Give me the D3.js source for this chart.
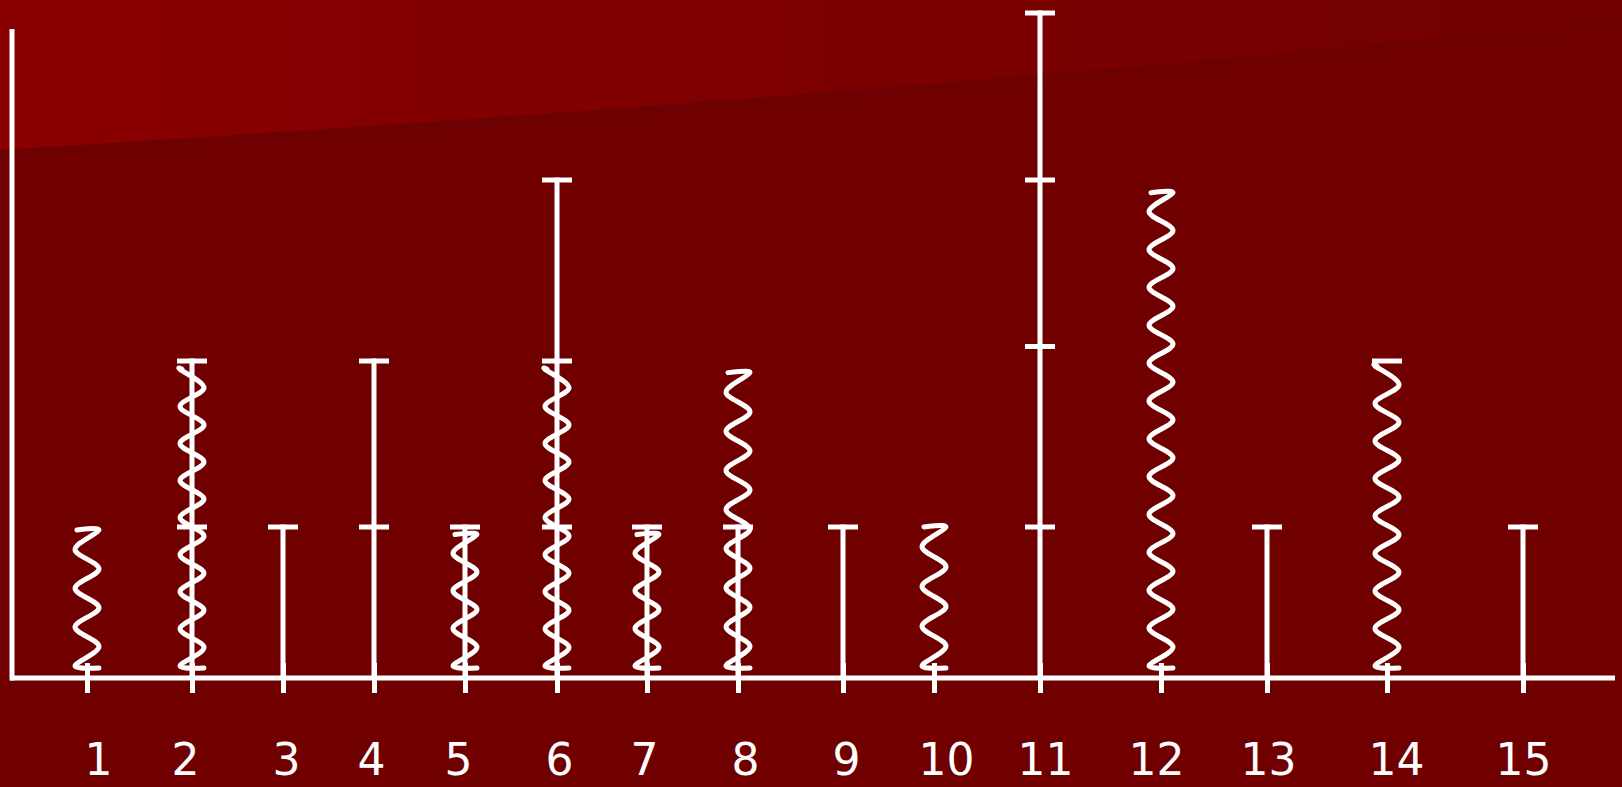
<html>
  <script src="https://cdn.jsdelivr.net/npm/d3@7"></script>
  <style>
    body,
    html {
      margin: 0;
      padding: 0;
      background: #700000;
    }
    svg {
      display: block;
    }
  </style>
  <body>
    <svg id="chart" width="1622" height="787"></svg>
    <script>
      // one entry per column, values in "levels" (0 = axis)
      const categories = ["1", "2", "3", "4", "5", "6", "7", "8", "9", "10", "11", "12", "13", "14", "15"];
      const straightTop = [0, 2, 1, 2, 1, 3, 1, 1, 1, 0, 4, 0, 1, 0, 1];
      const capLevels = [[], [1, 2], [1], [1, 2], [1], [1, 2, 3], [1], [1], [1], [], [1, 2.08, 3, 4], [], [1], [2], [1]];
      const waveTop = [0.98, 1.95, 0, 0, 0.95, 1.95, 0.95, 1.93, 0, 1, 0, 2.93, 0, 1.97, 0];
      const waveBottom = 0.08;
      const levelTicks = [0, 1, 2, 3, 4];

      const svg = d3.select("#chart");
      const W = 1622;

      // background band top-left
      const defs = svg.append("defs");
      const grad = defs
        .append("linearGradient")
        .attr("id", "band")
        .attr("x1", "0%")
        .attr("x2", "100%");
      grad.append("stop").attr("offset", "0%").attr("stop-color", "#8a0000");
      grad.append("stop").attr("offset", "55%").attr("stop-color", "#7c0000");
      grad.append("stop").attr("offset", "100%").attr("stop-color", "#710000");

      svg.append("rect").attr("width", W).attr("height", 787).attr("fill", "#700000");
      svg
        .append("path")
        .attr("d", "M0,0 L1622,0 L1622,20 Q900,95 0,150 Z")
        .attr("fill", "url(#band)");
      svg
        .append("path")
        .attr("d", "M0,150 Q900,95 1622,20 L1622,28 Q900,103 0,160 Z")
        .attr("fill", "#690000")
        .attr("opacity", 0.5);

      // scales: hand-placed columns, uneven level heights as in the slide
      const slotX = [87, 192, 283, 374, 465, 557, 647, 738, 843, 934, 1040, 1161, 1267, 1387, 1523];
      const labelX = [98, 185, 286, 371, 458, 559, 644, 745, 846, 946, 1045, 1156, 1268, 1396, 1523];
      const x = d3.scaleOrdinal().domain(categories).range(slotX);
      const xLabel = d3.scaleOrdinal().domain(categories).range(labelX);
      const y = d3.scaleLinear().domain(levelTicks).range([678, 527, 361, 180, 13]);

      const stroke = "white";
      const sw = 5;

      // axes lines
      svg
        .append("line")
        .attr("x1", 12)
        .attr("x2", 12)
        .attr("y1", 29)
        .attr("y2", y(0) + 2.5)
        .attr("stroke", stroke)
        .attr("stroke-width", sw);
      svg
        .append("line")
        .attr("x1", 10)
        .attr("x2", 1615)
        .attr("y1", y(0))
        .attr("y2", y(0))
        .attr("stroke", stroke)
        .attr("stroke-width", sw);

      // tick marks crossing the axis
      const tickAxis = svg
        .append("g")
        .attr("transform", `translate(0,${y(0)})`)
        .call(d3.axisBottom(x).tickSize(15).tickFormat(""));
      tickAxis.select(".domain").remove();
      tickAxis
        .selectAll(".tick line")
        .attr("y1", -15)
        .attr("stroke", stroke)
        .attr("stroke-width", sw);

      // labels
      const labelAxis = svg
        .append("g")
        .attr("transform", `translate(0,${y(0)})`)
        .call(d3.axisBottom(xLabel).tickSize(0).tickPadding(0));
      labelAxis.select(".domain").remove();
      labelAxis
        .selectAll("text")
        .attr("y", 97)
        .attr("dy", 0)
        .attr("fill", "white")
        .style("font-family", "Verdana, 'DejaVu Sans', sans-serif")
        .style("font-size", "44px");

      const cols = categories.map((c, i) => ({
        c,
        straight: straightTop[i],
        caps: capLevels[i],
        wave: waveTop[i],
      }));

      // straight bars
      svg
        .selectAll(".stem")
        .data(cols.filter((d) => d.straight > 0))
        .enter()
        .append("line")
        .attr("class", "stem")
        .attr("x1", (d) => x(d.c))
        .attr("x2", (d) => x(d.c))
        .attr("y1", y(0))
        .attr("y2", (d) => y(d.straight) - 2.5)
        .attr("stroke", stroke)
        .attr("stroke-width", sw);

      // caps
      const capData = [];
      cols.forEach((d) => d.caps.forEach((v) => capData.push({ c: d.c, v })));
      svg
        .selectAll(".cap")
        .data(capData)
        .enter()
        .append("line")
        .attr("class", "cap")
        .attr("x1", (d) => x(d.c) - 15)
        .attr("x2", (d) => x(d.c) + 15)
        .attr("y1", (d) => y(d.v))
        .attr("y2", (d) => y(d.v))
        .attr("stroke", stroke)
        .attr("stroke-width", sw);

      // squiggles
      const amp = 12;
      const line = d3
        .line()
        .x((p) => p[0])
        .y((p) => p[1])
        .curve(d3.curveCardinal.tension(0));

      const squiggle = (d) => {
        const cx = x(d.c);
        const y0 = y(waveBottom);
        const y1 = y(d.wave);
        const n = Math.max(2, Math.round((y0 - y1) / 19));
        const pts = [[cx + 12, y0 + 2]];
        for (let i = 0; i <= n; i++) {
          const yy = y0 - ((y0 - y1) * i) / n;
          pts.push([cx + (i % 2 === 0 ? -amp : amp), yy]);
        }
        pts.push([cx - 10, y1]);
        return line(pts);
      };

      svg
        .selectAll(".wave")
        .data(cols.filter((d) => d.wave > 0))
        .enter()
        .append("path")
        .attr("class", "wave")
        .attr("d", squiggle)
        .attr("fill", "none")
        .attr("stroke", stroke)
        .attr("stroke-width", sw)
        .attr("stroke-linecap", "round")
        .attr("stroke-linejoin", "round");
    </script>
  </body>
</html>
